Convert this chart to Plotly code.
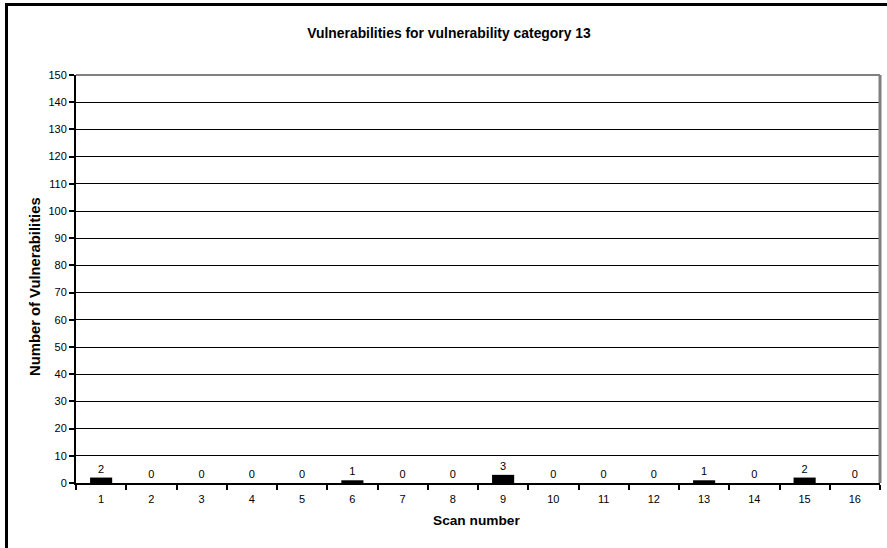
import plotly.graph_objects as go

# Scan results for vulnerability category 13
scans = [str(i) for i in range(1, 17)]
counts = [2, 0, 0, 0, 0, 1, 0, 0, 3, 0, 0, 0, 1, 0, 2, 0]
y_ticks = list(range(0, 151, 10))

W, H = 887, 548
L, R, T, B = 76, 7, 75, 65
plot_w = W - L - R
plot_h = H - T - B


def px_x(px):
    return (px - L) / plot_w


def px_y(py):
    return (H - B - py) / plot_h


FONT = "Liberation Sans, Arial, sans-serif"

fig = go.Figure(
    go.Bar(
        x=scans,
        y=counts,
        marker=dict(color="black", line=dict(width=0)),
        width=0.44,
        text=[str(v) for v in counts],
        textposition="outside",
        textfont=dict(size=11, color="black", family=FONT),
        cliponaxis=False,
    )
)

fig.update_layout(
    width=W,
    height=H,
    margin=dict(l=L, r=R, t=T, b=B),
    paper_bgcolor="white",
    plot_bgcolor="white",
    showlegend=False,
    font=dict(family=FONT, size=11, color="black"),
    title=dict(
        text="<b>Vulnerabilities for vulnerability category 13</b>",
        x=449 / W,
        xanchor="center",
        y=1 - 33 / H,
        yanchor="middle",
        font=dict(size=13.9, family=FONT, color="black"),
    ),
)

fig.update_xaxes(
    type="category",
    tickson="boundaries",
    ticks="outside",
    ticklen=5,
    tickwidth=1.5,
    tickcolor="black",
    ticklabelstandoff=5,
    showline=True,
    linecolor="black",
    linewidth=2,
    showgrid=False,
    tickfont=dict(size=11, family=FONT, color="black"),
    range=[-0.5, 15.5],
)

fig.update_yaxes(
    range=[0, 150],
    tickvals=y_ticks,
    ticks="outside",
    ticklen=5,
    tickwidth=1.5,
    tickcolor="black",
    showline=True,
    linecolor="black",
    linewidth=2,
    showgrid=True,
    gridcolor="black",
    gridwidth=1,
    zeroline=False,
    tickfont=dict(size=11, family=FONT, color="black"),
)

# Axis titles
fig.add_annotation(
    text="<b>Scan number</b>", xref="paper", yref="paper",
    x=px_x(476.5), y=px_y(520), xanchor="center", yanchor="middle",
    showarrow=False, font=dict(size=13.7, family=FONT, color="black"),
)
fig.add_annotation(
    text="<b>Number of Vulnerabilities</b>", xref="paper", yref="paper",
    x=px_x(35), y=px_y(287), xanchor="center", yanchor="middle",
    textangle=-90, showarrow=False, font=dict(size=14.8, family=FONT, color="black"),
)

# Grey frame on the top and right of the plot area
fig.add_shape(type="line", xref="paper", yref="paper", x0=0, x1=1, y0=1, y1=1,
              line=dict(color="#808080", width=2))
fig.add_shape(type="line", xref="paper", yref="paper", x0=1, x1=1, y0=0, y1=1,
              line=dict(color="#808080", width=3))

# Outer chart border (left and top edges)
fig.add_shape(type="line", xref="paper", yref="paper",
              x0=px_x(6.5), x1=px_x(6.5), y0=px_y(560), y1=px_y(4.5),
              line=dict(color="black", width=3))
fig.add_shape(type="line", xref="paper", yref="paper",
              x0=px_x(5), x1=px_x(900), y0=px_y(4.5), y1=px_y(4.5),
              line=dict(color="black", width=3))

fig.write_html("out.html")
